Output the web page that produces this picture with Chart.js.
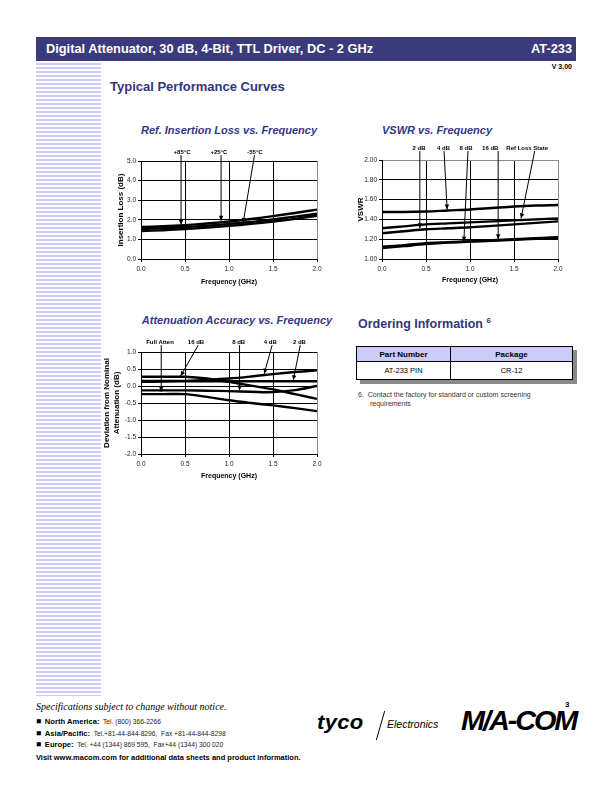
<!DOCTYPE html>
<html>
<head>
<meta charset="utf-8">
<script src="https://cdn.jsdelivr.net/npm/chart.js@4.4.1/dist/chart.umd.min.js"></script>
<style>
  html, body { margin: 0; padding: 0; background: #fff; }
  body { width: 612px; height: 792px; position: relative; overflow: hidden; font-family: "Liberation Sans", Arial, sans-serif; }
  .abs { position: absolute; white-space: nowrap; }
  #bar { left: 36px; top: 37px; width: 540px; height: 24px; background: #3b3b7c; color: #fff; font-weight: bold; }
  #bar .l { position: absolute; left: 10px; top: 4px; font-size: 12.8px; }
  #bar .r { position: absolute; right: 4px; top: 4px; font-size: 12.8px; }
  #stripes { left: 36px; top: 63px; width: 65px; height: 633px;
    background: repeating-linear-gradient(to bottom, #cbcbf5 0px, #cbcbf5 2px, #fff 2px, #fff 4px); }
  .h2 { color: #35357a; font-weight: bold; }
  .ctitle { color: #35358a; font-weight: bold; font-style: italic; font-size: 11px; transform: translateX(-50%); }
  canvas { position: absolute; }
  table { border-collapse: collapse; }
  #ord { left: 356px; top: 346px; width: 217px; box-shadow: 4px 4px 0 #8a8a8a; background: #fff; }
  #ord td { border: 1px solid #000; text-align: center; font-size: 7.5px; height: 17px; padding: 0; }
  #ord tr.hd td { background: #cbcbf8; font-weight: bold; font-size: 8px; height: 14px; }
  .small { font-size: 7px; color: #333; }
  .foot { font-size: 6.7px; color: #222; }
  .foot b { font-size: 7.6px; color: #000; }
  .foot i { font-style: normal; font-size: 8.5px; color: #000; }
</style>
</head>
<body>
<div id="bar" class="abs"><span class="l">Digital Attenuator, 30 dB, 4-Bit, TTL Driver, DC - 2 GHz</span><span class="r">AT-233</span></div>
<div id="stripes" class="abs"></div>
<div class="abs" style="right:40px; top:63px; font-size:7px; font-weight:bold;">V 3.00</div>
<div class="abs h2" style="left:110px; top:79px; font-size:13px;">Typical Performance Curves</div>

<div class="abs ctitle" style="left:229px; top:124px;">Ref. Insertion Loss vs. Frequency</div>
<div class="abs ctitle" style="left:437px; top:124px;">VSWR vs. Frequency</div>
<div class="abs ctitle" style="left:237px; top:314px;">Attenuation Accuracy vs. Frequency</div>

<canvas id="c1" width="230" height="152" style="left:100px; top:140px;"></canvas>
<canvas id="c2" width="225" height="152" style="left:350px; top:140px;"></canvas>
<canvas id="c3" width="230" height="154" style="left:100px; top:330px;"></canvas>

<div class="abs h2" style="left:358px; top:316px; font-size:12.5px;">Ordering Information <sup style="font-size:8px;">6</sup></div>
<table id="ord" class="abs">
  <tr class="hd"><td style="width:93px;">Part Number</td><td>Package</td></tr>
  <tr><td>AT-233 PIN</td><td>CR-12</td></tr>
</table>
<div class="abs small" style="left:358px; top:391px;">6.&nbsp; Contact the factory for standard or custom screening</div>
<div class="abs small" style="left:370px; top:400px;">requirements</div>

<div class="abs" style="left:36px; top:701px; font-family:'Liberation Serif', serif; font-style:italic; font-size:10px;">Specifications subject to change without notice.</div>
<div class="abs foot" style="left:36px; top:716px;"><i>&#9632;</i>&nbsp; <b>North America:</b>&nbsp; Tel. (800) 366-2266</div>
<div class="abs foot" style="left:36px; top:728px;"><i>&#9632;</i>&nbsp; <b>Asia/Pacific:</b>&nbsp; Tel.+81-44-844-8296,&nbsp; Fax +81-44-844-8298</div>
<div class="abs foot" style="left:36px; top:739px;"><i>&#9632;</i>&nbsp; <b>Europe:</b>&nbsp; Tel. +44 (1344) 869 595,&nbsp; Fax+44 (1344) 300 020</div>
<div class="abs" style="left:36px; top:753px; font-size:7.5px; font-weight:bold;">Visit www.macom.com for additional data sheets and product information.</div>
<div class="abs" style="left:565px; top:700px; font-size:8px; font-weight:bold;">3</div>

<div class="abs" style="left:317px; top:710px; font-size:21px; font-weight:900; font-style:italic; letter-spacing:0.3px; transform:scaleX(1.05); transform-origin:left;">tyco</div>
<div class="abs" style="left:380px; top:711px; width:1px; height:29px; background:#000; transform:skewX(-16deg);"></div>
<div class="abs" style="left:387px; top:718px; font-size:10.5px; font-style:italic;">Electronics</div>
<div class="abs" style="left:461px; top:705px; font-size:28px; font-weight:900; font-style:italic; letter-spacing:-2px; transform:scaleX(1.03); transform-origin:left;">M/A-COM</div>

<script>
// frequency points (GHz)
const freq = [0, 0.25, 0.5, 0.75, 1.0, 1.25, 1.5, 1.75, 2.0];

// insertion loss (dB)
const il85 = [1.63, 1.67, 1.73, 1.81, 1.91, 2.04, 2.19, 2.35, 2.52];
const il25 = [1.53, 1.57, 1.63, 1.70, 1.79, 1.89, 2.02, 2.16, 2.31];
const ilm55 = [1.43, 1.47, 1.53, 1.60, 1.69, 1.79, 1.91, 2.05, 2.21];

// VSWR
const vswr4 = [1.475, 1.475, 1.48, 1.49, 1.50, 1.515, 1.53, 1.54, 1.545];
const vswrRef = [1.31, 1.33, 1.35, 1.36, 1.37, 1.38, 1.39, 1.40, 1.41];
const vswr2 = [1.26, 1.28, 1.30, 1.31, 1.32, 1.335, 1.35, 1.365, 1.38];
const vswr8 = [1.125, 1.14, 1.16, 1.17, 1.18, 1.19, 1.20, 1.21, 1.22];
const vswr16 = [1.11, 1.13, 1.15, 1.165, 1.175, 1.185, 1.195, 1.205, 1.215];

// attenuation accuracy (dB deviation)
const acc16 = [0.27, 0.27, 0.27, 0.22, 0.12, 0.01, -0.10, -0.24, -0.38];
const acc4 = [0.12, 0.13, 0.15, 0.18, 0.22, 0.28, 0.35, 0.41, 0.46];
const acc2 = [0.15, 0.15, 0.14, 0.14, 0.14, 0.14, 0.14, 0.14, 0.14];
const accFull = [-0.13, -0.13, -0.13, -0.14, -0.15, -0.17, -0.18, -0.12, 0.0];
const acc8 = [-0.24, -0.24, -0.24, -0.32, -0.42, -0.50, -0.57, -0.65, -0.74];

// callouts: label position and arrow, in axis units
const ilNotes = [
  { text: '+85\u00B0C', lx: 0.466, ly: 5.46, x0: 0.455, y0: 5.3, x1: 0.455, y1: 1.75 },
  { text: '+25\u00B0C', lx: 0.886, ly: 5.46, x0: 0.91, y0: 5.3, x1: 0.91, y1: 1.95 },
  { text: '-55\u00B0C', lx: 1.295, ly: 5.46, x0: 1.29, y0: 5.3, x1: 1.16, y1: 1.83 }
];
const vswrNotes = [
  { text: '2 dB', lx: 0.42, ly: 2.12, x0: 0.43, y0: 2.09, x1: 0.43, y1: 1.31 },
  { text: '4 dB', lx: 0.70, ly: 2.12, x0: 0.705, y0: 2.09, x1: 0.74, y1: 1.50 },
  { text: '8 dB', lx: 0.955, ly: 2.12, x0: 0.977, y0: 2.09, x1: 0.93, y1: 1.175 },
  { text: '16 dB', lx: 1.23, ly: 2.12, x0: 1.32, y0: 2.09, x1: 1.32, y1: 1.20 },
  { text: 'Ref Loss State', lx: 1.65, ly: 2.12, x0: 1.735, y0: 2.09, x1: 1.58, y1: 1.41 }
];
const accNotes = [
  { text: 'Full Atten', lx: 0.216, ly: 1.29, x0: 0.23, y0: 1.2, x1: 0.23, y1: -0.17 },
  { text: '16 dB', lx: 0.625, ly: 1.29, x0: 0.65, y0: 1.2, x1: 0.45, y1: 0.29 },
  { text: '8 dB', lx: 1.11, ly: 1.29, x0: 1.12, y0: 1.2, x1: 1.12, y1: -0.13 },
  { text: '4 dB', lx: 1.47, ly: 1.29, x0: 1.49, y0: 1.2, x1: 1.40, y1: 0.36 },
  { text: '2 dB', lx: 1.80, ly: 1.29, x0: 1.81, y0: 1.2, x1: 1.73, y1: 0.17 }
];

Chart.defaults.font.family = '"Liberation Sans", Arial, sans-serif';
Chart.defaults.color = '#222';

const calloutPlugin = {
  id: 'callouts',
  afterDatasetsDraw(chart, args, opts) {
    const { ctx, scales: { x, y } } = chart;
    ctx.save();
    ctx.font = 'bold 6px "Liberation Sans", Arial, sans-serif';
    ctx.textAlign = 'center';
    ctx.textBaseline = 'middle';
    ctx.fillStyle = '#000';
    ctx.strokeStyle = '#000';
    ctx.lineWidth = 1;
    (opts.items || []).forEach(n => {
      ctx.fillText(n.text, x.getPixelForValue(n.lx), y.getPixelForValue(n.ly));
      const ax = x.getPixelForValue(n.x0), ay = y.getPixelForValue(n.y0);
      const bx = x.getPixelForValue(n.x1), by = y.getPixelForValue(n.y1);
      ctx.beginPath();
      ctx.moveTo(ax, ay);
      ctx.lineTo(bx, by);
      ctx.stroke();
      const ang = Math.atan2(by - ay, bx - ax);
      const len = 5, half = 2.2;
      ctx.beginPath();
      ctx.moveTo(bx, by);
      ctx.lineTo(bx - len * Math.cos(ang) + half * Math.sin(ang), by - len * Math.sin(ang) - half * Math.cos(ang));
      ctx.lineTo(bx - len * Math.cos(ang) - half * Math.sin(ang), by - len * Math.sin(ang) + half * Math.cos(ang));
      ctx.closePath();
      ctx.fill();
    });
    ctx.restore();
  }
};

function series(values) {
  return {
    data: freq.map((f, i) => ({ x: f, y: values[i] })),
    borderColor: '#000',
    borderWidth: 2.4,
    pointRadius: 0,
    tension: 0.35,
    fill: false
  };
}

function makeChart(id, cfg) {
  return new Chart(document.getElementById(id), {
    type: 'line',
    data: { datasets: cfg.lines.map(series) },
    plugins: [calloutPlugin],
    options: {
      responsive: false,
      animation: false,
      layout: { padding: cfg.padding },
      plugins: {
        legend: { display: false },
        tooltip: { enabled: false },
        callouts: { items: cfg.notes }
      },
      scales: {
        x: {
          type: 'linear', min: 0, max: 2,
          afterFit: s => { s.height = cfg.xHeight; },
          ticks: { stepSize: 0.5, callback: v => v.toFixed(1), font: { size: 6.5 }, padding: 3, maxRotation: 0 },
          grid: { color: c => (c.tick && c.tick.value === 2 ? '#8c8c8c' : '#000'), lineWidth: 1, tickLength: 3, tickColor: '#000' },
          border: { color: '#000', width: 1 },
          title: { display: true, text: 'Frequency (GHz)', font: { size: 7, weight: 'bold' }, color: '#000', padding: { top: 0, bottom: cfg.xTitlePad } }
        },
        y: {
          type: 'linear', min: cfg.yMin, max: cfg.yMax,
          afterFit: s => { s.width = cfg.yWidth; },
          ticks: { stepSize: cfg.yStep, callback: v => v.toFixed(cfg.yDec), font: { size: 6.5 }, padding: 2 },
          grid: { color: c => (cfg.grayTop && c.tick && c.tick.value === cfg.yMax ? '#8c8c8c' : '#000'), lineWidth: 1, tickLength: 3, tickColor: '#000' },
          border: { color: '#000', width: 1 },
          title: { display: true, text: cfg.yTitle, font: { size: 8, weight: 'bold' }, color: '#000', padding: { top: cfg.yTitlePad, bottom: 0 } }
        }
      }
    }
  });
}

makeChart('c1', {
  lines: [il85, il25, ilm55], notes: ilNotes,
  padding: { top: 21, right: 13, left: 0, bottom: 0 },
  xHeight: 33, yWidth: 41, xTitlePad: 6, yTitlePad: 16,
  yMin: 0, yMax: 5, yStep: 1, yDec: 1, yTitle: 'Insertion Loss (dB)'
});

makeChart('c2', {
  lines: [vswr4, vswrRef, vswr2, vswr8, vswr16], notes: vswrNotes,
  padding: { top: 20, right: 17, left: 0, bottom: 0 },
  xHeight: 33, yWidth: 32, xTitlePad: 8, yTitlePad: 6, grayTop: true,
  yMin: 1, yMax: 2, yStep: 0.2, yDec: 2, yTitle: 'VSWR'
});

makeChart('c3', {
  lines: [acc16, acc4, acc2, accFull, acc8], notes: accNotes,
  padding: { top: 22, right: 13, left: 0, bottom: 0 },
  xHeight: 30, yWidth: 41, xTitlePad: 4, yTitlePad: 2,
  yMin: -2, yMax: 1, yStep: 0.5, yDec: 1, yTitle: ['Deviation from Nominal', 'Attenuation (dB)']
});
</script>
</body>
</html>
